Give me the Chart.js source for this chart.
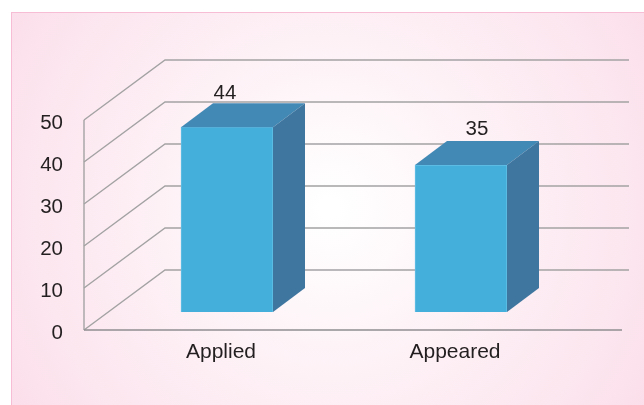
<!DOCTYPE html>
<html>
<head>
<meta charset="utf-8">
<style>
  html, body { margin: 0; padding: 0; background: #fff; }
  canvas { display: block; }
</style>
<script src="https://cdn.jsdelivr.net/npm/chart.js@4"></script>
</head>
<body>
<canvas id="myChart1" width="644" height="405"></canvas>
<script>
const categories = ['Applied', 'Appeared'];
const values = [44, 35];
const yTicks = [0, 10, 20, 30, 40, 50];

const fontName = '"Liberation Sans", Arial, sans-serif';
const textColor = '#231f20';
const lineColor = '#a4a3a4';

// 3d look: the wall goes back by this much, the bars sit a bit in front of it
const wallBack = { x: 81, y: -60 };
const barDepth = { x: 32, y: -24 };
const barLift = -18;

const pseudo3d = {
    id: 'pseudo3d',
    beforeDraw(chart) {
        const c = chart.ctx;
        const grad = c.createRadialGradient(330, 208, 10, 330, 208, 400);
        grad.addColorStop(0, '#ffffff');
        grad.addColorStop(1, '#fbdde9');
        c.save();
        c.fillStyle = grad;
        c.fillRect(11, 12, 633, 393);
        c.fillStyle = '#f6bdd5';
        c.fillRect(11, 12, 633, 1);
        c.fillRect(11, 12, 1, 393);
        c.restore();
    },
    beforeDatasetsDraw(chart) {
        const c = chart.ctx;
        const y = chart.scales.y;
        const left = chart.chartArea.left - 26;
        // walls and grid from the y scale
        c.save();
        c.lineWidth = 1.4;
        c.strokeStyle = lineColor;
        yTicks.forEach(function (t) {
            const py = y.getPixelForValue(t);
            c.beginPath();
            c.moveTo(left, py);
            c.lineTo(left + wallBack.x, py + wallBack.y);
            c.lineTo(629, py + wallBack.y);
            c.stroke();
        });
        c.beginPath();
        c.moveTo(left, y.getPixelForValue(50));
        c.lineTo(left, y.getPixelForValue(0));
        c.stroke();
        c.strokeStyle = '#8f8e90';
        c.beginPath();
        c.moveTo(left, y.getPixelForValue(0));
        c.lineTo(622, y.getPixelForValue(0));
        c.stroke();
        c.restore();
        // move the bars forward, undone after they are drawn
        c.save();
        c.translate(0, barLift);
    },
    afterDatasetsDraw(chart) {
        const c = chart.ctx;
        c.restore();
        const nudge = [[-2, -33.5], [16, -36]];
        chart.getDatasetMeta(0).data.forEach(function (bar, i) {
            const l = bar.x - bar.width / 2;
            const r = bar.x + bar.width / 2;
            const top = bar.y + barLift;
            const bottom = bar.base + barLift;
            c.save();
            c.fillStyle = '#4289b6';
            c.beginPath();
            c.moveTo(l, top);
            c.lineTo(l + barDepth.x, top + barDepth.y);
            c.lineTo(r + barDepth.x, top + barDepth.y);
            c.lineTo(r, top);
            c.closePath();
            c.fill();
            c.fillStyle = '#3e76a0';
            c.beginPath();
            c.moveTo(r, top);
            c.lineTo(r + barDepth.x, top + barDepth.y);
            c.lineTo(r + barDepth.x, bottom + barDepth.y);
            c.lineTo(r, bottom);
            c.closePath();
            c.fill();
            c.fillStyle = textColor;
            c.font = '20.5px ' + fontName;
            c.textAlign = 'center';
            c.textBaseline = 'middle';
            c.fillText(String(values[i]), bar.x + nudge[i][0], top + nudge[i][1]);
            c.restore();
        });
    }
};

const ctx1 = document.getElementById('myChart1').getContext('2d');
const config = {
    type: 'bar',
    data: {
        labels: categories,
        datasets: [{
            data: values,
            backgroundColor: '#45afdc',
            borderColor: '#66c0e6',
            borderWidth: 1,
            barThickness: 92
        }]
    },
    plugins: [pseudo3d],
    options: {
        responsive: false,
        animation: false,
        layout: { padding: { top: 120, right: 66, left: 0, bottom: 0 } },
        plugins: {
            legend: { display: false },
            tooltip: { enabled: false }
        },
        scales: {
            x: {
                afterFit(scale) { scale.height = 75; },
                grid: { display: false },
                border: { display: false },
                ticks: {
                    padding: 2,
                    labelOffset: -6,
                    color: textColor,
                    font: { family: fontName, size: 21 }
                }
            },
            y: {
                min: 0,
                max: 50,
                afterFit(scale) { scale.width = 110; },
                grid: { display: false },
                border: { display: false },
                ticks: {
                    stepSize: 10,
                    padding: 39,
                    labelOffset: 3,
                    color: textColor,
                    font: { family: fontName, size: 20.5 }
                }
            }
        }
    }
};
const myChart1 = new Chart(ctx1, config);
</script>
</body>
</html>
